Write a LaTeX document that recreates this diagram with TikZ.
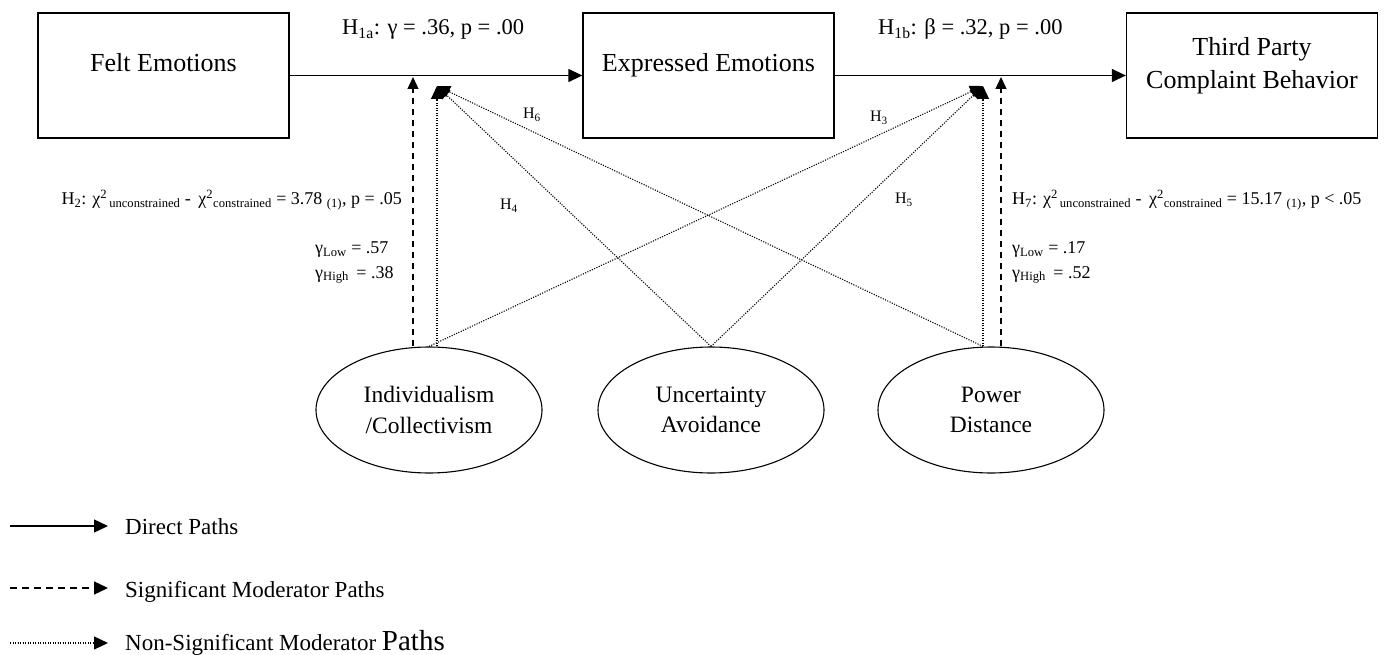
\documentclass[tikz,border=0pt]{standalone}
\usepackage{fontspec}
\setmainfont{Liberation Serif}
\usetikzlibrary{arrows.meta,shapes.geometric,calc}
\begin{document}
\begin{tikzpicture}[x=1pt,y=-1pt,
  box/.style={draw,line width=1.3pt,minimum width=251pt,minimum height=125pt,inner sep=0pt},
  boxtext/.style={inner sep=0pt,align=center,font=\fontsize{26}{33}\selectfont},
  factor/.style={draw,ellipse,line width=1.1pt,minimum width=226pt,minimum height=126pt,inner sep=0pt,align=center,font=\fontsize{23.5}{30.5}\selectfont},
  pathlab/.style={inner sep=0pt,font=\fontsize{22.5}{26}\selectfont},
  statlab/.style={inner sep=0pt,font=\fontsize{18}{21}\selectfont},
  hyplab/.style={inner sep=0pt,font=\fontsize{16}{18}\selectfont},
  legtext/.style={inner sep=0pt,anchor=base west,font=\fontsize{23}{26}\selectfont},
  direct/.style={line width=1.3pt,-{Triangle[length=14pt,width=13pt]}},
  sigpath/.style={line width=1.3pt,dash pattern=on 6pt off 5pt,-{Triangle[length=12pt,width=11pt]}},
  nonsig/.style={line width=1.1pt,dash pattern=on 1.1pt off 1.4pt,-{Triangle[length=13pt,width=12pt]}}
]
\useasboundingbox (0,0) rectangle (1384,655);

% constructs
\node[box] (felt)  at (163.5,75.5) {};
\node[box] (expr)  at (708.5,75.5) {};
\node[box] (third) at (1252,75.5) {};
\node[boxtext,anchor=base] (feltT) at ($(felt.north)+(0,59)$) {Felt Emotions};
\node[boxtext,anchor=base] (exprT) at ($(expr.north)+(0,59)$) {Expressed Emotions};
\node[boxtext] (thirdT) at (1252,65.5) {Third Party\\Complaint Behavior};

% cultural moderators
\node[factor] (ind) at (429,410) {Individualism\\/Collectivism};
\node[factor] (unc) at (711,410) {Uncertainty\\Avoidance};
\node[factor] (pow) at (991,410) {Power\\Distance};

% direct paths
\draw[direct] (felt.east) -- (expr.west);
\draw[direct] (expr.east) -- (third.west);

% targets of the moderating effects on the two direct paths
\coordinate (dL) at (413,77);
\coordinate (pL) at (437,86);
\coordinate (pR) at (983,86);
\coordinate (dR) at (1001,77);

% moderator paths
\draw[sigpath] ($(ind.north)+(-16,0)$) -- (dL);
\draw[nonsig]  ($(ind.north)+(8,0)$) -- (pL);
\draw[nonsig]  (ind.north) -- (pR);
\draw[nonsig]  (unc.north) -- (pL);
\draw[nonsig]  (unc.north) -- (pR);
\draw[nonsig]  ($(pow.north)+(-8,0)$) -- (pL);
\draw[nonsig]  ($(pow.north)+(-8,0)$) -- (pR);
\draw[sigpath] ($(pow.north)+(10,0)$) -- (dR);

% path labels
\node[pathlab,anchor=base west] (h1a) at (342,35) {H\textsubscript{1a}: γ = .36, p = .00};
\node[pathlab,anchor=base west] (h1b) at (878,35) {H\textsubscript{1b}: β = .32, p = .00};

\node[hyplab] (h6) at (532,115) {H\textsubscript{6}};
\node[hyplab] (h3) at (879,118) {H\textsubscript{3}};
\node[hyplab] (h4) at (509,206) {H\textsubscript{4}};
\node[hyplab] (h5) at (904,200) {H\textsubscript{5}};

\node[statlab,anchor=east] (h2) at (402,200) {H\textsubscript{2}: χ\textsuperscript{2}\textsubscript{\,unconstrained} -\, χ\textsuperscript{2}\textsubscript{constrained} = 3.78 \textsubscript{(1)}, p = .05};
\node[statlab,anchor=base west] (g1) at (315,254) {γ\textsubscript{Low} = .57};
\node[statlab,anchor=base west] (g2) at (315,278) {γ\textsubscript{High}\, = .38};

\node[statlab,anchor=west] (h7) at (1012,200) {H\textsubscript{7}: χ\textsuperscript{2}\textsubscript{\,unconstrained} -\, χ\textsuperscript{2}\textsubscript{constrained} = 15.17 \textsubscript{(1)}, p < .05};
\node[statlab,anchor=base west] (g3) at (1012,254) {γ\textsubscript{Low} = .17};
\node[statlab,anchor=base west] (g4) at (1012,278) {γ\textsubscript{High}\, = .52};

% legend
\coordinate (l1a) at (10,526);  \coordinate (l1b) at (108,526);
\coordinate (l2a) at (10,588);  \coordinate (l2b) at (108,588);
\coordinate (l3a) at (10,643);  \coordinate (l3b) at (108,643);
\draw[direct] (l1a) -- (l1b);
\draw[line width=1.3pt,dash pattern=on 7pt off 5pt,-{Triangle[length=14pt,width=13pt]}] (l2a) -- (l2b);
\draw[line width=1.1pt,dash pattern=on 1.1pt off 1.4pt,-{Triangle[length=14pt,width=13pt]}] (l3a) -- (l3b);
\node[legtext] (lt1) at (125,534) {Direct Paths};
\node[legtext] (lt2) at (125,597) {Significant Moderator Paths};
\node[legtext] (lt3) at (125,650) {Non-Significant Moderator {\fontsize{29}{32}\selectfont Paths}};
\end{tikzpicture}
\end{document}
